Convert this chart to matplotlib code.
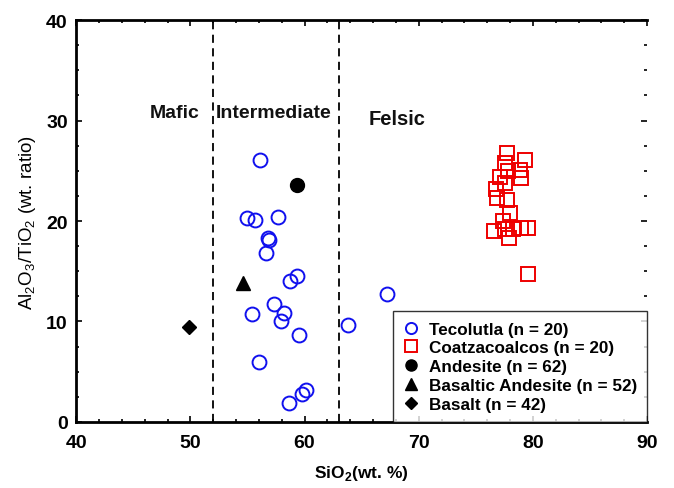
import matplotlib.pyplot as plt
from matplotlib.ticker import MultipleLocator

plt.rcParams["font.family"] = ["Liberation Sans", "DejaVu Sans"]
plt.rcParams["font.weight"] = "bold"
plt.rcParams["mathtext.fontset"] = "custom"
plt.rcParams["mathtext.rm"] = "Liberation Sans"
plt.rcParams["mathtext.bf"] = "Liberation Sans:bold"

# Tecolutla (blue open circles)
teco_sio2 = [56.1, 55.0, 55.7, 57.7, 56.8, 56.9, 56.6, 59.3, 58.7, 57.3,
             58.2, 55.4, 57.9, 59.5, 56.0, 60.1, 59.8, 58.6, 63.8, 67.2]
teco_ratio = [26.1, 20.3, 20.1, 20.4, 18.3, 18.1, 16.8, 14.5, 14.0, 11.7,
              10.8, 10.7, 10.0, 8.7, 6.0, 3.2, 2.8, 1.9, 9.65, 12.7]

# Coatzacoalcos (red open squares)
coat_sio2 = [77.7, 79.3, 77.6, 77.8, 78.9, 79.0, 77.1, 77.6, 76.8, 76.9,
             77.7, 78.0, 77.4, 76.6, 77.6, 78.3, 79.0, 79.6, 77.9, 79.6]
coat_ratio = [26.8, 26.1, 25.8, 25.0, 25.1, 24.3, 24.4, 23.8, 23.2, 22.3,
              22.1, 20.8, 20.0, 19.0, 19.2, 19.2, 19.3, 19.3, 18.3, 14.7]

# reference compositions
ref_names = ["Andesite (n = 62)", "Basaltic Andesite (n = 52)", "Basalt (n = 42)"]
ref_sio2 = [59.3, 54.6, 49.9]
ref_ratio = [23.6, 13.8, 9.5]
ref_markers = ["o", "^", "D"]

bounds = [52, 63]
regions = ["Mafic", "Intermediate", "Felsic"]
region_x = [48.6, 57.3, 68.1]
region_y = [30.8, 30.8, 30.2]

fig = plt.figure(figsize=(6.74, 4.89), dpi=100)
ax = fig.add_axes([0.113, 0.135, 0.847, 0.822])

ax.plot(teco_sio2, teco_ratio, "o", mfc="none", mec="#1010ee", mew=1.4,
        ms=10, label="Tecolutla (n = 20)", zorder=3)
ax.plot(coat_sio2, coat_ratio, "s", mfc="none", mec="#ee0000", mew=1.4,
        ms=10, label="Coatzacoalcos (n = 20)", zorder=3)
for name, x, y, m in zip(ref_names, ref_sio2, ref_ratio, ref_markers):
    ax.plot(x, y, m, color="black", ms=10 if m != "D" else 7.5, label=name, zorder=3)

for b in bounds:
    ax.axvline(b, color="black", lw=1.3, ls=(0, (4.5, 3)), zorder=1)

for txt, x, y in zip(regions, region_x, region_y):
    ax.text(x, y, txt, ha="center", va="center", fontsize=14.5 if txt == "Felsic" else 14,
            fontweight="bold", color="#111111")

ax.set_xlim(40, 90)
ax.set_ylim(0, 40)
ax.xaxis.set_major_locator(MultipleLocator(10))
ax.xaxis.set_minor_locator(MultipleLocator(2))
ax.yaxis.set_major_locator(MultipleLocator(10))
ax.yaxis.set_minor_locator(MultipleLocator(2.5))
ax.tick_params(which="both", direction="in", top=True, right=True, width=1.2)
ax.tick_params(which="major", length=4, labelsize=14)
ax.tick_params(axis="x", which="major", pad=9)
ax.tick_params(axis="y", which="major", pad=6)
ax.tick_params(which="minor", length=2)
for lab in ax.get_xticklabels() + ax.get_yticklabels():
    lab.set_fontweight("bold")

for s in ["left", "bottom", "top"]:
    ax.spines[s].set_linewidth(2)
ax.spines["right"].set_visible(False)

ax.set_xlabel("SiO$_\\mathbf{2}$(wt. %)", fontsize=12.5, fontweight="bold", labelpad=8)
ax.set_ylabel("Al$_\\mathregular{2}$O$_\\mathregular{3}$/TiO$_\\mathregular{2}$ (wt. ratio)",
              fontsize=13.5, fontweight="normal", labelpad=6)

leg = ax.legend(loc="lower right", borderaxespad=0, fontsize=12.3, frameon=True,
                fancybox=False, edgecolor="black", handletextpad=0.5,
                handlelength=1.0, labelspacing=0.22, borderpad=0.6,
                markerscale=0.8)
leg.get_frame().set_linewidth(1.0)
for t in leg.get_texts():
    t.set_fontweight("bold")

fig.savefig("out.png", dpi=100)
